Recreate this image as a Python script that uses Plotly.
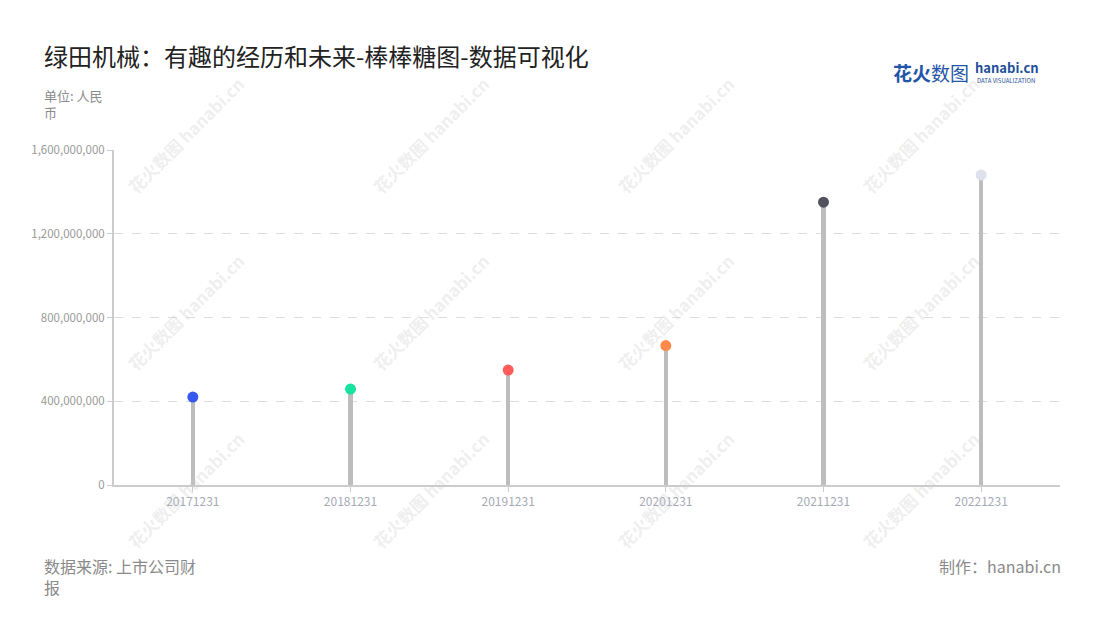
import plotly.graph_objects as go

categories = ["20171231", "20181231", "20191231", "20201231", "20211231", "20221231"]
values = [420000000, 458000000, 549000000, 666000000, 1351000000, 1481000000]
dot_colors = ["#3657F2", "#17E3A0", "#FF5B5B", "#FF8A4A", "#52525E", "#DEE1EC"]
y_ticks = [0, 400000000, 800000000, 1200000000, 1600000000]

FONT = "Noto Sans CJK SC"

# plot area in page pixels (figure drawn with 8px page offset)
PL, PR, PT, PB = 114, 1060, 150, 485


def px(x):
    return (x - PL) / (PR - PL)


def py(y):
    return (PB - y) / (PB - PT)


fig = go.Figure()

# stems
fig.add_trace(go.Bar(
    x=categories, y=values, width=0.026,
    marker=dict(color="#BDBDBD", line=dict(width=0)),
    hoverinfo="skip", showlegend=False,
))
# heads
fig.add_trace(go.Scatter(
    x=categories, y=values, mode="markers",
    marker=dict(size=11, color=dot_colors, line=dict(width=0)),
    showlegend=False, cliponaxis=False,
))

annotations = []
# watermarks
for xx in [185, 430, 675, 920]:
    for yy in [135, 312, 490]:
        annotations.append(dict(
            xref="paper", yref="paper", x=px(xx), y=py(yy),
            xanchor="center", yanchor="middle",
            text="<b>花火数图 hanabi.cn</b>", showarrow=False, textangle=-45,
            font=dict(family=FONT, size=17, color="rgba(200,200,200,0.3)"),
        ))

# title
annotations.append(dict(
    xref="paper", yref="paper", x=px(42), y=py(55), xanchor="left", yanchor="middle",
    text="绿田机械：有趣的经历和未来-棒棒糖图-数据可视化", showarrow=False,
    font=dict(family=FONT, size=24, color="#222222"),
))
# unit
annotations.append(dict(
    xref="paper", yref="paper", x=px(42), y=py(84), xanchor="left", yanchor="top",
    text="单位: 人民<br>币", showarrow=False, align="left",
    font=dict(family=FONT, size=13, color="#8A8A8A"),
))
# source
annotations.append(dict(
    xref="paper", yref="paper", x=px(42), y=py(552), xanchor="left", yanchor="top",
    text="数据来源: 上市公司财<br>报", showarrow=False, align="left",
    font=dict(family=FONT, size=16, color="#8A8A8A"),
))
# maker
annotations.append(dict(
    xref="paper", yref="paper", x=px(1063), y=py(552), xanchor="right", yanchor="top",
    text="制作：hanabi.cn", showarrow=False, align="right",
    font=dict(family=FONT, size=16, color="#8A8A8A"),
))
# logo
annotations.append(dict(
    xref="paper", yref="paper", x=px(891), y=py(72), xanchor="left", yanchor="middle",
    text="<b>花火</b>数图", showarrow=False,
    font=dict(family=FONT, size=19, color="#1F56A8"),
))
annotations.append(dict(
    xref="paper", yref="paper", x=px(973), y=py(67), xanchor="left", yanchor="middle",
    text="<b>hanabi.cn</b>", showarrow=False,
    font=dict(family=FONT, size=13, color="#1F4F9A"),
))
annotations.append(dict(
    xref="paper", yref="paper", x=px(975), y=py(80), xanchor="left", yanchor="middle",
    text="DATA VISUALIZATION", showarrow=False,
    font=dict(family=FONT, size=6, color="#1F4F9A"),
))

fig.update_layout(
    width=1100, height=620,
    margin=dict(l=PL - 8, r=1100 + 8 - PR, t=PT - 8, b=620 + 8 - PB),
    paper_bgcolor="white", plot_bgcolor="white",
    font=dict(family=FONT),
    annotations=annotations,
    bargap=0,
    xaxis=dict(
        type="category", range=[-0.5, 5.5],
        showline=True, linecolor="#CCCCCC", linewidth=2,
        ticks="outside", ticklen=5, tickcolor="#CCCCCC", tickwidth=1,
        showgrid=False, zeroline=False,
        tickfont=dict(family=FONT, size=12, color="#A6A9B6"),
    ),
    yaxis=dict(
        range=[0, 1600000000], tickvals=y_ticks, tickformat=",",
        showline=True, linecolor="#CCCCCC", linewidth=2,
        ticks="outside", ticklen=5, tickcolor="#CCCCCC",
        showgrid=True, gridcolor="#DDDDDD", griddash="dash", gridwidth=1,
        zeroline=False,
        tickfont=dict(family=FONT, size=11.5, color="#999999"),
    ),
)

fig.write_html("out.html")
